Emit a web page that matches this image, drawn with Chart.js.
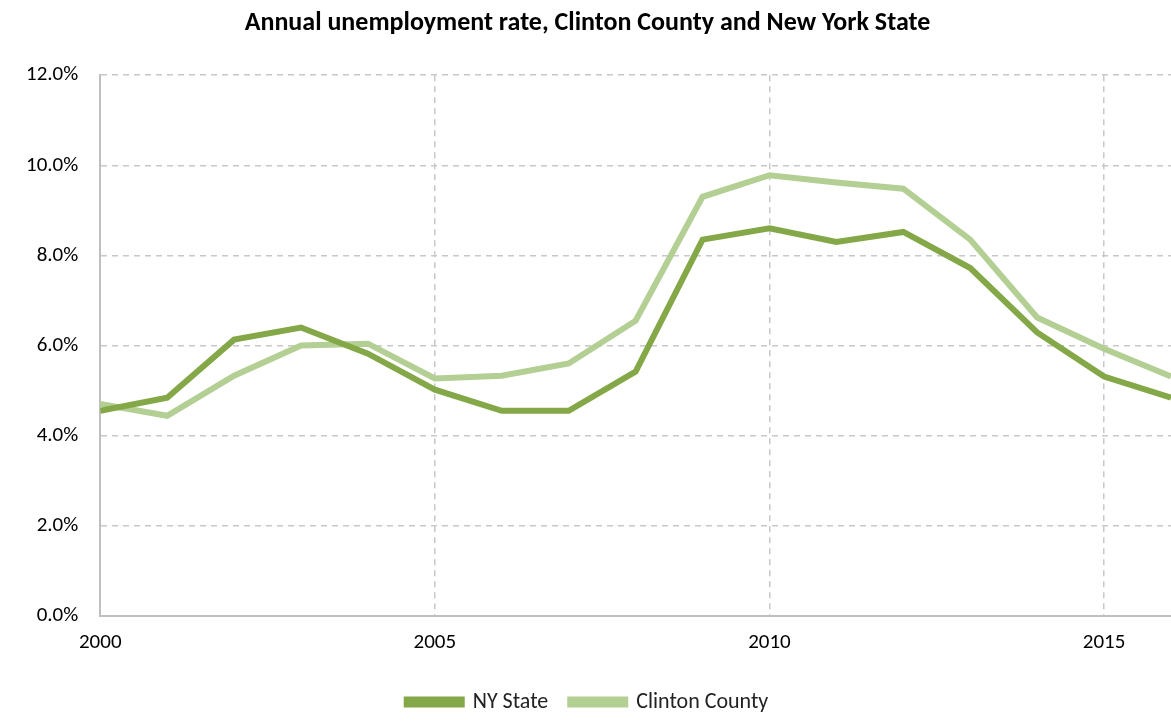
<!DOCTYPE html>
<html>
<head>
<meta charset="utf-8">
<script src="https://cdn.jsdelivr.net/npm/chart.js@4"></script>
<style>
  html, body { margin: 0; padding: 0; background: #fff; }
  #wrap { width: 1171px; height: 723px; }
</style>
</head>
<body>
<div id="wrap"><canvas id="chart"></canvas></div>
<script>
const years = [2000, 2001, 2002, 2003, 2004, 2005, 2006, 2007, 2008, 2009, 2010, 2011, 2012, 2013, 2014, 2015, 2016];
const nyState = [4.55, 4.84, 6.13, 6.4, 5.82, 5.02, 4.55, 4.55, 5.42, 8.35, 8.6, 8.3, 8.52, 7.72, 6.29, 5.31, 4.84];
const clinton = [4.7, 4.44, 5.33, 6.0, 6.04, 5.27, 5.33, 5.6, 6.55, 9.3, 9.78, 9.62, 9.48, 8.35, 6.62, 5.93, 5.31];

function points(vals) {
    return years.map((y, i) => ({ x: y, y: vals[i] }));
}

const font = "Calibri, Carlito, Lato, sans-serif";

new Chart(document.getElementById('chart'), {
    type: 'line',
    data: {
        datasets: [
            { label: 'NY State', data: points(nyState), borderColor: '#84a848', backgroundColor: '#84a848', borderWidth: 6, pointRadius: 0, tension: 0 },
            { label: 'Clinton County', data: points(clinton), borderColor: '#b3cf94', backgroundColor: '#b3cf94', borderWidth: 6, pointRadius: 0, tension: 0 }
        ]
    },
    options: {
        responsive: true,
        maintainAspectRatio: false,
        animation: false,
        layout: { padding: { top: 4, right: 0, left: 4, bottom: 0 } },
        plugins: {
            title: {
                display: true,
                text: 'Annual unemployment rate, Clinton County and New York State',
                color: '#000',
                font: { family: font, size: 26, weight: 'bold' },
                padding: { top: 4, bottom: 36 }
            },
            legend: {
                position: 'bottom',
                labels: {
                    color: '#222',
                    font: { family: font, size: 22 },
                    boxWidth: 55, boxHeight: 5, padding: 22
                }
            },
            tooltip: { enabled: false }
        },
        scales: {
            x: {
                type: 'linear',
                min: 2000, max: 2016,
                grid: { color: '#c8c8c8', lineWidth: 1.5, drawTicks: false },
                border: { color: '#bfbfbf', width: 2, dash: [6, 5] },
                ticks: {
                    stepSize: 5, includeBounds: false,
                    color: '#000', font: { family: font, size: 21 }, padding: 14,
                    callback: v => String(v)
                }
            },
            y: {
                min: 0, max: 12,
                grid: { color: '#c8c8c8', lineWidth: 1.5, drawTicks: false },
                border: { color: '#bfbfbf', width: 2, dash: [6, 5] },
                ticks: {
                    stepSize: 2, color: '#000', font: { family: font, size: 21 }, padding: 22,
                    callback: v => v.toFixed(1) + '%'
                }
            }
        }
    }
});
</script>
</body>
</html>
